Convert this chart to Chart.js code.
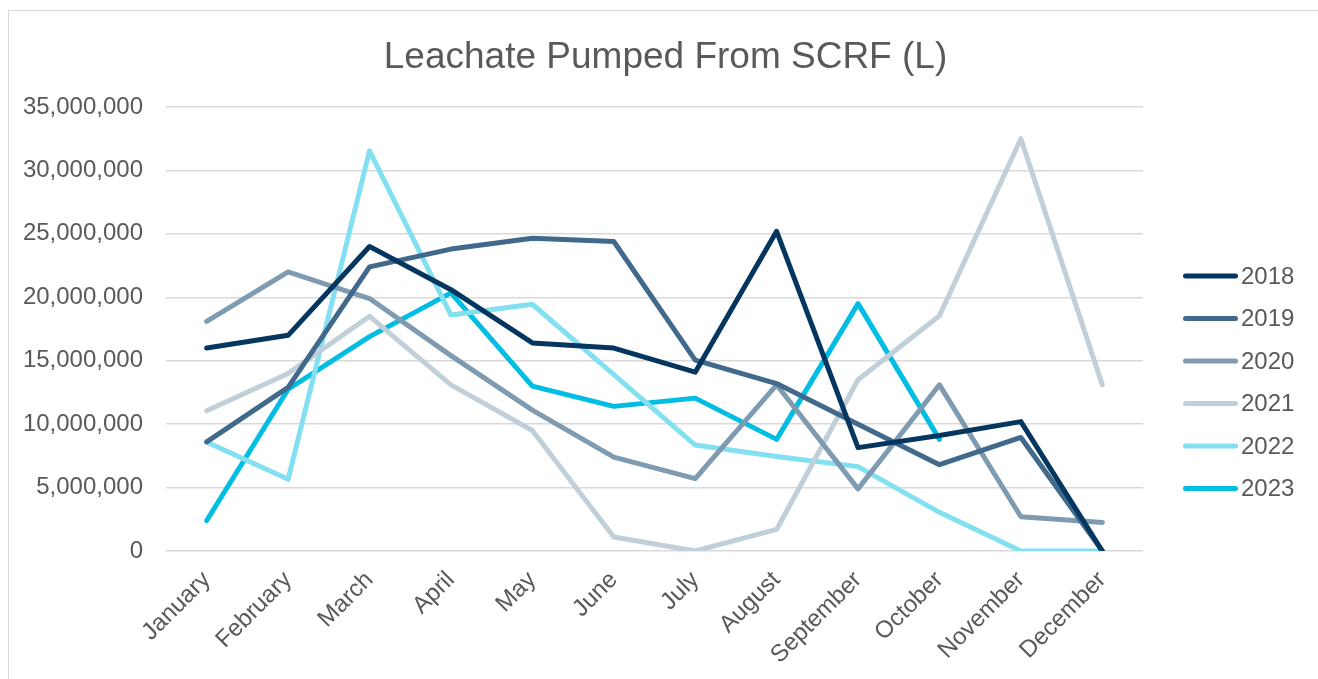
<!DOCTYPE html>
<html>
<head>
<meta charset="utf-8">
<script src="https://cdn.jsdelivr.net/npm/chart.js@4.4.1/dist/chart.umd.min.js"></script>
<style>
  html, body { margin: 0; padding: 0; background: #ffffff; }
  #wrap { position: relative; width: 1318px; height: 679px; overflow: hidden; }
  #frame { position: absolute; left: 8px; top: 10px; width: 1400px; height: 800px; border: 1px solid #d9d9d9; box-sizing: border-box; }
  canvas { position: absolute; left: 0; top: 0; }
</style>
</head>
<body>
<div id="wrap">
  <div id="frame"></div>
  <canvas id="c" width="1318" height="679"></canvas>
</div>
<script>
const months = ["January","February","March","April","May","June","July","August","September","October","November","December"];
const years = ["2018","2019","2020","2021","2022","2023"];
const s2018 = [16000000, 17000000, 24000000, 20600000, 16400000, 16000000, 14100000, 25200000, 8150000, 9100000, 10200000, 0];
const s2019 = [8600000, 12900000, 22400000, 23800000, 24650000, 24400000, 15050000, 13200000, 10000000, 6800000, 8950000, 0];
const s2020 = [18100000, 22000000, 19900000, 15400000, 11100000, 7400000, 5700000, 13100000, 4900000, 13100000, 2700000, 2250000];
const s2021 = [11050000, 14000000, 18500000, 13100000, 9500000, 1100000, 0, 1700000, 13500000, 18550000, 32500000, 13100000];
const s2022 = [8600000, 5650000, 31550000, 18600000, 19450000, 13900000, 8350000, 7450000, 6650000, 3050000, 0, 0];
const s2023 = [2400000, 12750000, 16900000, 20350000, 13000000, 11400000, 12050000, 8800000, 19500000, 8800000, null, null];
const yTicks = [0, 5000000, 10000000, 15000000, 20000000, 25000000, 30000000, 35000000];
const colors = ["#04365f", "#41698b", "#7f9bb1", "#c1cfd8", "#82e0f1", "#00bde3"];
const seriesList = [s2018, s2019, s2020, s2021, s2022, s2023];
const chartTitle = 'Leachate Pumped From SCRF (L)';

const FONT = "'Liberation Sans', Arial, sans-serif";
const TEXT = "#595959";

const decorPlugin = {
  id: 'decor',
  afterDraw(chart) {
    const ctx = chart.ctx;
    ctx.save();
    // title, centred on the whole canvas
    ctx.fillStyle = TEXT;
    ctx.font = "37px " + FONT;
    ctx.textAlign = 'center';
    ctx.textBaseline = 'middle';
    ctx.fillText(chartTitle, 665.5, 57.5);
    // legend on the right
    const x0 = 1183, x1 = 1238, tx = 1241, y0 = 276, dy = 42.5;
    chart.data.datasets.forEach((ds, i) => {
      const y = y0 + i * dy;
      ctx.strokeStyle = ds.borderColor;
      ctx.lineWidth = 5;
      ctx.lineCap = 'round';
      ctx.beginPath(); ctx.moveTo(x0 + 2.5, y); ctx.lineTo(x1 - 2.5, y); ctx.stroke();
      ctx.fillStyle = TEXT;
      ctx.font = "24px " + FONT;
      ctx.textBaseline = 'middle';
      ctx.textAlign = 'left';
      ctx.fillText(ds.label, tx, y + 1);
    });
    ctx.restore();
  }
};

new Chart(document.getElementById('c'), {
  type: 'line',
  data: {
    labels: months,
    datasets: years.map((y, i) => ({
      label: y,
      data: seriesList[i],
      borderColor: colors[i],
      backgroundColor: colors[i],
      borderWidth: 5,
      borderCapStyle: 'round',
      borderJoinStyle: 'round',
      pointRadius: 0,
      pointHoverRadius: 0,
      tension: 0,
      fill: false,
      spanGaps: false
    }))
  },
  options: {
    responsive: false,
    animation: false,
    devicePixelRatio: 1,
    layout: { padding: { left: 0, right: 175, top: 107, bottom: 0 } },
    plugins: {
      legend: { display: false },
      tooltip: { enabled: false },
      title: { display: false }
    },
    scales: {
      x: {
        offset: true,
        grid: { display: false, drawTicks: false },
        border: { display: false },
        ticks: {
          autoSkip: false, maxRotation: 45, minRotation: 45,
          color: TEXT, font: { family: FONT, size: 24 }, padding: 15
        },
        afterFit(scale) { scale.height = 128; }
      },
      y: {
        min: 0, max: 35000000,
        afterBuildTicks(scale) { scale.ticks = yTicks.map(v => ({ value: v })); },
        grid: { color: '#d9d9d9', lineWidth: 1.5, drawTicks: false },
        border: { display: false },
        ticks: {
          color: TEXT, font: { family: FONT, size: 24 }, padding: 23,
          callback: v => Number(v).toLocaleString('en-US')
        },
        afterFit(scale) { scale.width = 166; }
      }
    }
  },
  plugins: [decorPlugin]
});
</script>
</body>
</html>
